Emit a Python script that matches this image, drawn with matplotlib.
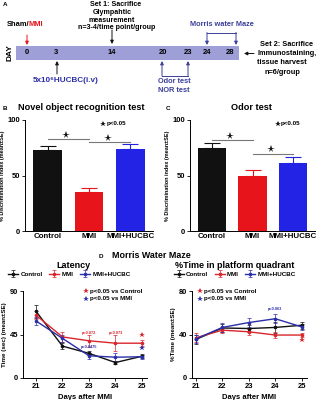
import numpy as np
import matplotlib
matplotlib.use('Agg')
from matplotlib import pyplot as plt

#   global style: bold Arial-like text everywhere
plt.rcParams['font.family'] = ['Liberation Sans', 'DejaVu Sans']
plt.rcParams['font.weight'] = 'bold'
plt.rcParams['axes.labelweight'] = 'bold'
plt.rcParams['axes.linewidth'] = 0.7

#   data
groups = ['Control', 'MMI', 'MMI+HUCBC']
nor_mean = [73, 35, 74]
nor_se = [4, 4, 4.5]
odor_mean = [74.5, 49.5, 61.5]
odor_se = [4.5, 5.5, 5]

days = [21, 22, 23, 24, 25]
lat_control = [69, 33, 25.5, 16, 22.5]
lat_mmi = [65, 42.5, 38.5, 36, 36]
lat_hucbc = [59, 41, 23, 21.5, 22]
lat_control_se = [7, 3, 2, 2, 2]
lat_mmi_se = [4, 5, 6, 8, 3]
lat_hucbc_se = [4, 4, 3, 4, 2]

quad_control = [35.5, 46, 45.5, 46.5, 48.5]
quad_mmi = [37, 44, 42.5, 39.5, 39.5]
quad_hucbc = [36, 46.5, 51, 54.5, 47]
quad_control_se = [4, 4, 3, 5, 3]
quad_mmi_se = [4, 3, 3, 3, 2]
quad_hucbc_se = [4, 4, 4, 4, 3]

timeline_days = ['0', '3', '14', '20', '23', '24', '28']

black = '#111111'
red = '#e8141c'
blue = '#2323e6'
line_red = '#d8262c'
line_blue = '#2b2fa8'
navy = '#3a3e98'
lavender = '#9d9fd6'
colors = [black, red, blue]

W, H = 322, 400
fig = plt.figure(figsize=(W / 100, H / 100), dpi=100)


def px_axes(left, top, right, bottom):
    return fig.add_axes([left / W, 1 - bottom / H, (right - left) / W, (bottom - top) / H])


#   overlay in pixel coordinates for the schematic and panel headings
ov = fig.add_axes([0, 0, 1, 1])
ov.set_xlim(0, W)
ov.set_ylim(H, 0)
ov.axis('off')

#   ---- panel A: timeline ----
ov.text(3, 5, 'A', fontsize=4.5, va='center')
ov.add_patch(plt.Rectangle((16, 46), 223, 13.5, color=lavender, lw=0))
ov.text(10, 53, 'DAY', rotation=90, fontsize=6, va='center', ha='center')
day_x = [27, 56, 112, 163, 188, 207, 230]
for x, d in zip(day_x, timeline_days):
    ov.text(x, 53, d, fontsize=5.5, ha='center', va='center')

arrow = dict(arrowstyle='-|>', lw=0.7, mutation_scale=5, shrinkA=0, shrinkB=0)
ov.text(7, 25, 'Sham/', fontsize=5.4, va='center')
ov.text(29, 25, 'MMI', fontsize=5.4, va='center', color=red)
ov.annotate('', xy=(27, 45), xytext=(27, 35), arrowprops=dict(arrow, color=red))

ov.text(116, 4, 'Set 1: Sacrifice', fontsize=5.1, ha='center', va='center')
ov.text(112, 12, 'Glympahtic', fontsize=5.1, ha='center', va='center')
ov.text(112, 20, 'measurement', fontsize=5.1, ha='center', va='center')
ov.text(117, 27.5, 'n=3-4/time point/group', fontsize=5.1, ha='center', va='center')
ov.annotate('', xy=(112, 44), xytext=(112, 30), arrowprops=dict(arrow, color=black))

ov.annotate('', xy=(57, 61), xytext=(57, 74), arrowprops=dict(arrow, color=black))
ov.text(66, 80.5, '5x10\u2076HUCBC(i.v)', fontsize=5.9, ha='center', va='center',
        color=line_blue)

ov.text(222, 24.5, 'Morris water Maze', fontsize=5.3, ha='center', va='center', color=navy)
ov.plot([207, 236], [32.5, 32.5], color=navy, lw=0.7)
for x in (207, 236):
    ov.annotate('', xy=(x, 45), xytext=(x, 32.5), arrowprops=dict(arrow, color=navy))

ov.plot([162, 188], [76, 76], color=navy, lw=0.7)
for x in (162, 188):
    ov.annotate('', xy=(x, 61), xytext=(x, 76), arrowprops=dict(arrow, color=navy))
ov.text(174, 81.5, 'Odor test', fontsize=5.3, ha='center', va='center', color=navy)
ov.text(174, 90, 'NOR test', fontsize=5.3, ha='center', va='center', color=navy)

ov.annotate('', xy=(244, 53.5), xytext=(254, 53.5), arrowprops=dict(arrow, color=black))
ov.text(260, 45, 'Set 2: Sacrifice', fontsize=5.3, va='center')
ov.text(258, 53.5, 'Immunostaining,', fontsize=5.3, va='center')
ov.text(257, 62.5, 'tissue harvest', fontsize=5.3, va='center')
ov.text(265, 72, 'n=6/group', fontsize=5.3, va='center')

#   ---- panels B and C: bar charts ----
ov.text(3, 108, 'B', fontsize=4.5, va='center')
ov.text(81, 108, 'Novel object recognition test', fontsize=6.6, ha='center', va='center')
ov.text(166, 108, 'C', fontsize=4.5, va='center')
ov.text(251, 108, 'Odor test', fontsize=6.6, ha='center', va='center')


def bar_panel(ax, means, ses, sig1, sig2, key_x):
    x = np.arange(len(groups))
    ax.bar(x, means, width=0.7, color=colors, zorder=2)
    for i in range(len(groups)):
        ax.errorbar(x[i], means[i], yerr=[[0], [ses[i]]], color=colors[i], lw=0.8,
                    capsize=5.5, capthick=0.8, zorder=1)
    ax.set_xlim(-0.55, 2.55)
    ax.set_ylim(0, 100)
    ax.set_yticks([0, 50, 100])
    ax.set_xticks(x)
    ax.set_xticklabels(groups, fontsize=5.7)
    ax.tick_params(axis='x', length=0, pad=1.5)
    ax.tick_params(axis='y', labelsize=5.5, length=2, width=0.6, pad=1.5)
    for s in ('top', 'right'):
        ax.spines[s].set_visible(False)
    ax.set_ylabel('% Discrimination index (mean\u00b1SE)', fontsize=4.0, labelpad=2)
    #   significance bars between groups
    ax.plot([0, 1], [sig1, sig1], color='#777777', lw=0.8)
    ax.plot([1, 2], [sig2, sig2], color='#777777', lw=0.8)
    ax.plot(0.45, sig1 + 4, marker='*', color=black, ms=5.5, mew=0)
    ax.plot(1.47, sig2 + 4, marker='*', color=black, ms=5.5, mew=0)
    ax.plot(key_x, 0.965, marker='*', color=black, ms=4.2, mew=0, transform=ax.transAxes)
    ax.text(key_x + 0.028, 0.965, 'p<0.05', fontsize=4.5, va='center', transform=ax.transAxes)


ax_b = px_axes(25, 120, 153, 231)
bar_panel(ax_b, nor_mean, nor_se, 82.5, 80, 0.61)
ax_c = px_axes(190, 120, 315, 231)
bar_panel(ax_c, odor_mean, odor_se, 82, 69.5, 0.70)

#   ---- panel D: Morris water maze ----
ov.text(99, 256, 'D', fontsize=4.5, va='center')
ov.text(112, 256, 'Morris Water Maze', fontsize=6.4, va='center')
ov.text(73, 265.5, 'Latency', fontsize=6.5, ha='center', va='center')
ov.text(235, 265.5, '%Time in platform quadrant', fontsize=6.5, ha='center', va='center')


def line_panel(ax, series, ses, ylim, yticks, ylabel, xlim, leg_x):
    labels = ['Control', 'MMI', 'MMI+HUCBC']
    lcolors = [black, line_red, line_blue]
    handles = []
    for vals, err, c, lab in zip(series, ses, lcolors, labels):
        h = ax.errorbar(days, vals, yerr=err, color=c, lw=1.0, marker='o', ms=1.6,
                        elinewidth=0.5, capsize=1.2, capthick=0.5, label=lab)
        handles.append(h)
    ax.set_xlim(*xlim)
    ax.set_ylim(*ylim)
    ax.set_yticks(yticks)
    ax.set_xticks(days)
    ax.tick_params(labelsize=5.4, length=2, width=0.6, pad=1.5)
    for s in ('top', 'right'):
        ax.spines[s].set_visible(False)
    ax.set_ylabel(ylabel, fontsize=4.5, labelpad=2)
    ax.set_xlabel('Days after MMI', fontsize=5.5, labelpad=3)
    ax.legend(handles=handles, loc='center left', bbox_to_anchor=(leg_x, 1.195), ncol=3,
              frameon=False, fontsize=4.5, handlelength=1.6, handletextpad=0.4,
              columnspacing=1.0, borderpad=0, borderaxespad=0)


ax_l = px_axes(23, 291, 147, 378)
line_panel(ax_l, [lat_control, lat_mmi, lat_hucbc],
           [lat_control_se, lat_mmi_se, lat_hucbc_se],
           (0, 90), [0, 45, 90], 'Time (sec) (mean\u00b1SE)', (20.51, 25.19), -0.12)
ax_l.plot(0.51, 1.0, marker='*', color=line_red, ms=4.2, mew=0, transform=ax_l.transAxes, clip_on=False)
ax_l.text(0.54, 1.0, 'p<0.05 vs Control', fontsize=4.5, va='center', transform=ax_l.transAxes)
ax_l.plot(0.51, 0.91, marker='*', color=line_blue, ms=4.2, mew=0, transform=ax_l.transAxes, clip_on=False)
ax_l.text(0.54, 0.91, 'p<0.05 vs MMI', fontsize=4.5, va='center', transform=ax_l.transAxes)
ax_l.text(23, 46.5, 'p=0.072', fontsize=2.8, ha='center', va='center', color=line_red)
ax_l.text(24, 46.5, 'p=0.073', fontsize=2.8, ha='center', va='center', color=line_red)
ax_l.text(23, 32, 'p=0.0475', fontsize=2.8, ha='center', va='center', color=line_blue)
ax_l.plot(25, 44, marker='*', color=line_red, ms=4.2, mew=0)
ax_l.plot(25, 31, marker='*', color=line_blue, ms=4.2, mew=0)

ax_q = px_axes(192, 291, 307, 378)
line_panel(ax_q, [quad_control, quad_mmi, quad_hucbc],
           [quad_control_se, quad_mmi_se, quad_hucbc_se],
           (0, 80), [0, 40, 80], '%Time (mean\u00b1SE)', (20.85, 25.2), -0.16)
ax_q.plot(0.07, 1.0, marker='*', color=line_red, ms=4.2, mew=0, transform=ax_q.transAxes, clip_on=False)
ax_q.text(0.105, 1.0, 'p<0.05 vs Control', fontsize=4.5, va='center', transform=ax_q.transAxes)
ax_q.plot(0.07, 0.91, marker='*', color=line_blue, ms=4.2, mew=0, transform=ax_q.transAxes, clip_on=False)
ax_q.text(0.105, 0.91, 'p<0.05 vs MMI', fontsize=4.5, va='center', transform=ax_q.transAxes)
ax_q.text(24, 63, 'p=0.063', fontsize=2.8, ha='center', va='center', color=line_blue)
ax_q.plot(25, 35, marker='*', color=line_red, ms=4.2, mew=0)

fig.savefig('out.png', dpi=100)
